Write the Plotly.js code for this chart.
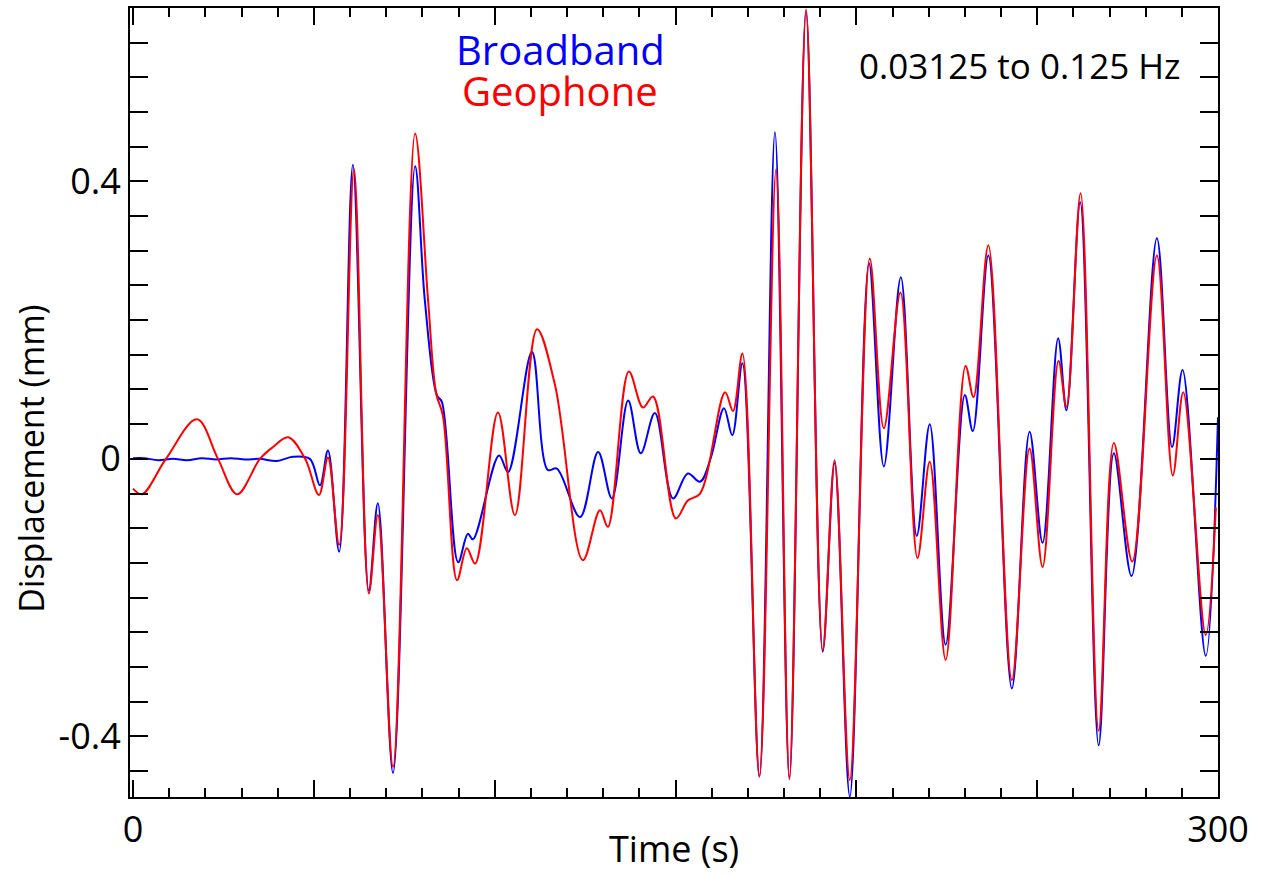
<!DOCTYPE html>
<html>
<head>
<meta charset="utf-8">
<script src="https://cdn.plot.ly/plotly-3.0.1.min.js"></script>
<style>
  html, body { margin: 0; padding: 0; background: #fff; }
  #chart { width: 1269px; height: 876px; }
</style>
</head>
<body>
<div id="chart"></div>
<script>
// Broadband sensor trace: time (s) and displacement (mm)
const bbTime = [0, 3, 7, 11, 15, 19, 23, 27, 31, 35, 39.8, 44.2, 48.9,
  51.7, 53.9, 57.0, 60.8, 65.2, 67.7, 71.9, 78.0, 80.7, 84.0, 85.4, 89.9,
  92.6, 94.0, 101.2, 103.7, 110.3, 114.7, 117.2, 123.6, 128.6, 132.4, 136.9,
  140.4, 144.3, 149.3, 153.4, 156.8, 159.8, 163.4, 165.7, 168.5, 173.2,
  177.5, 181.5, 186.1, 190.7, 194.0, 198.2, 203.5, 207.6, 212.3, 216.7,
  220.3, 224.7, 230.0, 232.2, 236.5, 243.0, 247.9, 251.5, 255.8, 258.1,
  261.9, 267.0, 271.2, 276.1, 283.1, 287.3, 290.2, 296.6, 300];
const bbDisp = [0.001, 0.001, -0.002, 0.0, -0.002, 0.001, -0.001, 0.001, -0.001, 0.0, -0.003, 0.003, 0.0,
  -0.038, 0.012, -0.134, 0.424, -0.19, -0.064, -0.453, 0.422, 0.228, 0.092, 0.082, -0.149,
  -0.108, -0.116, 0.005, -0.019, 0.154, -0.016, -0.014, -0.084, 0.01, -0.057, 0.084,
  0.008, 0.066, -0.057, -0.021, -0.033, 0.002, 0.073, 0.034, 0.138, -0.458,
  0.471, -0.46, 0.645, -0.278, -0.006, -0.487, 0.282, -0.011, 0.262, -0.111,
  0.05, -0.268, 0.092, 0.04, 0.293, -0.331, 0.039, -0.121, 0.174, 0.07,
  0.37, -0.413, 0.008, -0.169, 0.318, 0.017, 0.128, -0.284, 0.06];

// Geophone trace: time (s) and displacement (mm)
const geoTime = [0, 2.5, 9.1, 17.7, 23.5, 28.8, 35.1, 38.7, 42.9, 47.6,
  51.4, 53.9, 57.0, 61.1, 65.2, 67.7, 71.9, 78.0, 81.6, 83.8, 85.7, 89.6,
  92.3, 94.6, 100.9, 105.6, 111.7, 116.7, 124.4, 129.1, 131.3, 137.1, 141.0,
  143.8, 150.1, 153.4, 156.8, 163.7, 165.9, 168.5, 173.2, 177.8, 181.5,
  186.1, 190.7, 194.0, 198.2, 203.7, 207.6, 212.2, 216.9, 220.3, 224.7,
  230.2, 232.4, 236.5, 243.0, 247.9, 251.5, 255.9, 258.1, 262.0, 267.0,
  271.2, 276.3, 283.1, 287.5, 290.4, 296.6, 299.4];
const geoDisp = [-0.043, -0.051, 0.0, 0.057, 0.0, -0.051, 0.0, 0.017, 0.031, 0.0,
  -0.052, 0.002, -0.124, 0.418, -0.194, -0.081, -0.444, 0.469, 0.228, 0.095, 0.062, -0.175,
  -0.129, -0.151, 0.067, -0.081, 0.187, 0.106, -0.146, -0.074, -0.098, 0.126, 0.074,
  0.09, -0.086, -0.06, -0.05, 0.096, 0.069, 0.152, -0.458, 0.417, -0.462,
  0.648, -0.276, -0.002, -0.463, 0.289, 0.044, 0.24, -0.143, -0.004, -0.29,
  0.134, 0.089, 0.308, -0.319, 0.015, -0.156, 0.141, 0.075, 0.383, -0.392,
  0.023, -0.148, 0.293, -0.024, 0.096, -0.254, -0.07];

// Axis ticks and labels
const xTickVals = [0, 50, 100, 150, 200, 250, 300];
const xTickText = ['0', '', '', '', '', '', '300'];
const yTickVals = [-0.4, 0, 0.4];
const yTickText = ['-0.4', '0', '0.4'];

const FONT = 'Open Sans, Liberation Sans, sans-serif';

const traces = [
  { x: bbTime, y: bbDisp, type: 'scatter', mode: 'lines', name: 'Broadband',
    line: { color: '#0000ff', width: 2, shape: 'spline', smoothing: 1 } },
  { x: geoTime, y: geoDisp, type: 'scatter', mode: 'lines', name: 'Geophone',
    line: { color: '#ff0000', width: 2, shape: 'spline', smoothing: 1 } }
];

const axisCommon = {
  showline: true, linecolor: '#000', linewidth: 2, mirror: 'ticks',
  showgrid: false, zeroline: false, ticks: 'inside', tickcolor: '#000',
  tickwidth: 2, tickfont: { family: FONT, size: 36, color: '#000' }
};

const layout = {
  width: 1269, height: 876,
  margin: { l: 130, r: 51, t: 8, b: 79 },
  paper_bgcolor: '#fff', plot_bgcolor: '#fff',
  showlegend: false,
  font: { family: FONT, color: '#000' },
  xaxis: Object.assign({}, axisCommon, {
    range: [-0.83, 300],
    tickmode: 'array', tickvals: xTickVals, ticktext: xTickText,
    ticklen: 17,
    minor: { tick0: 0, dtick: 10, ticks: 'inside', ticklen: 9, tickwidth: 2, tickcolor: '#000', showgrid: false }
  }),
  yaxis: Object.assign({}, axisCommon, {
    range: [-0.4875, 0.65],
    tickmode: 'array', tickvals: yTickVals, ticktext: yTickText,
    ticklen: 18,
    minor: { tick0: 0, dtick: 0.05, ticks: 'inside', ticklen: 18, tickwidth: 2, tickcolor: '#000', showgrid: false }
  }),
  annotations: [
    { text: 'Time (s)', xref: 'paper', yref: 'paper', x: 0.5, y: 0,
      xanchor: 'center', yanchor: 'middle', yshift: -51, showarrow: false,
      font: { family: FONT, size: 36, color: '#000' } },
    { text: 'Displacement (mm)', xref: 'paper', yref: 'y', x: 0, y: 0,
      xanchor: 'center', yanchor: 'middle', xshift: -99, textangle: -90, showarrow: false,
      font: { family: FONT, size: 34, color: '#000' } },
    { text: 'Broadband', xref: 'paper', yref: 'paper', x: 0.396, y: 0.947,
      xanchor: 'center', yanchor: 'middle', showarrow: false,
      font: { family: FONT, size: 40, color: '#0000ff' } },
    { text: 'Geophone', xref: 'paper', yref: 'paper', x: 0.395, y: 0.895,
      xanchor: 'center', yanchor: 'middle', showarrow: false,
      font: { family: FONT, size: 40, color: '#ff0000' } },
    { text: '0.03125 to 0.125 Hz', xref: 'paper', yref: 'paper', x: 0.818, y: 0.9265,
      xanchor: 'center', yanchor: 'middle', showarrow: false,
      font: { family: FONT, size: 35, color: '#000' } }
  ]
};

Plotly.newPlot('chart', traces, layout, { displayModeBar: false, staticPlot: true });
</script>
</body>
</html>
